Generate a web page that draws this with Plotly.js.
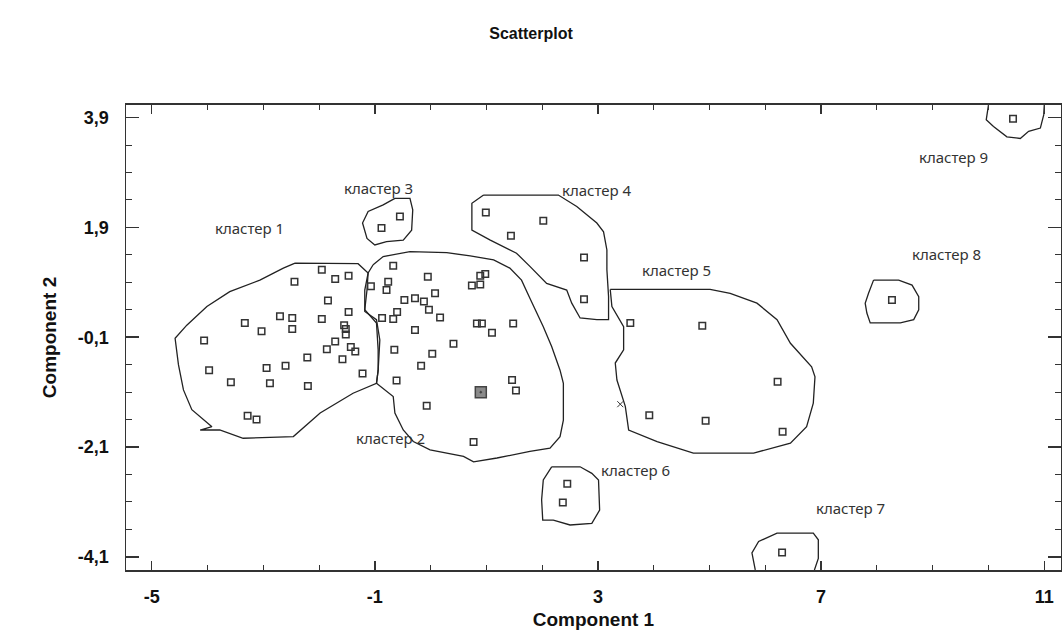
<!DOCTYPE html>
<html>
<head>
<meta charset="utf-8">
<script src="https://cdn.plot.ly/plotly-3.0.1.min.js"></script>
<style>html,body{margin:0;padding:0;background:#fff;}#chart{width:1062px;height:637px;}</style>
</head>
<body>
<div id="chart"></div>
<script>
// ---- tick labels ----
const xTickVals = [-5, -1, 3, 7, 11];
const xTickText = ["-5", "-1", "3", "7", "11"];
const yTickVals = [3.9, 1.9, -0.1, -2.1, -4.1];
const yTickText = ["3,9", "1,9", "-0,1", "-2,1", "-4,1"];

// ---- points per cluster ----
const c1x = [-1.95,-1.47,-1.71,-2.44,-1.84,-1.47,-2.70,-2.48,-1.95,-3.33,-2.48,-3.03,-1.55,-1.52,-1.52,-4.06,-1.71,-1.86,-1.43,-1.35,-2.21,-1.58,-3.97,-2.94,-2.60,-3.58,-2.88,-2.20,-1.22,-3.28,-3.12];
const c1y = [1.13,1.02,0.96,0.91,0.57,0.36,0.28,0.25,0.23,0.16,0.05,0.01,0.12,0.05,-0.05,-0.16,-0.18,-0.32,-0.28,-0.36,-0.47,-0.50,-0.70,-0.66,-0.62,-0.92,-0.94,-0.99,-0.76,-1.53,-1.60];
const c2x = [-0.67,-1.07,-0.76,-0.79,-0.05,0.89,0.98,0.74,0.89,-0.47,-0.28,-0.12,0.08,-0.03,0.17,-0.60,-0.67,-0.87,-0.28,0.83,0.92,1.10,1.48,0.41,-0.65,0.03,-0.17,-0.61,1.46,1.53,-0.07,0.77];
const c2y = [1.20,0.83,0.91,0.76,1.00,1.02,1.05,0.84,0.86,0.58,0.61,0.55,0.70,0.40,0.26,0.36,0.23,0.25,0.03,0.15,0.15,-0.02,0.15,-0.22,-0.33,-0.40,-0.62,-0.89,-0.88,-1.07,-1.35,-2.01];
const c3x = [-0.55,-0.88];
const c3y = [2.10,1.89];
const c4x = [0.99,2.02,1.44,2.75,2.75];
const c4y = [2.17,2.02,1.75,1.35,0.59];
const c5x = [3.58,4.87,6.22,3.92,4.93,6.31];
const c5y = [0.16,0.11,-0.91,-1.52,-1.62,-1.82];
const c6x = [2.45,2.37];
const c6y = [-2.77,-3.11];
const c7x = [6.30];
const c7y = [-4.02];
const c8x = [8.27];
const c8y = [0.58];
const c9x = [10.44];
const c9y = [3.88];
const centerX = [0.90];
const centerY = [-1.10];
const crossX = [3.40];
const crossY = [-1.32];

// ---- cluster boundaries ----
const b1x = [-2.43,-2.19,-1.30,-1.12,-1.14,-1.18,-0.97,-0.94,-0.94,-0.97,-1.39,-1.98,-2.46,-3.36,-3.78,-4.13,-3.92,-4.28,-4.43,-4.52,-4.58,-4.37,-4.01,-3.60,-3.06,-2.64,-2.43];
const b1y = [1.25,1.25,1.24,1.07,0.76,0.40,0.16,-0.33,-0.70,-0.94,-1.12,-1.48,-1.91,-1.94,-1.79,-1.79,-1.73,-1.42,-1.06,-0.60,-0.12,0.12,0.46,0.73,0.94,1.16,1.25];
const b2x = [-1.03,-0.85,-0.37,0.29,0.71,1.13,1.42,1.63,1.78,2.02,2.17,2.32,2.38,2.38,2.32,2.14,1.78,1.19,0.77,0.59,-0.01,-0.31,-0.49,-0.64,-0.67,-0.97,-0.94,-0.91,-0.97,-1.18,-1.18,-1.12,-1.03];
const b2y = [1.22,1.37,1.46,1.44,1.38,1.31,1.16,0.94,0.61,0.09,-0.27,-0.70,-0.94,-1.61,-1.91,-2.12,-2.18,-2.30,-2.37,-2.27,-2.15,-2.00,-1.79,-1.48,-1.18,-0.94,-0.70,-0.15,0.22,0.37,0.76,1.07,1.22];
const b3x = [-0.64,-0.37,-0.32,-0.34,-0.49,-0.79,-1.00,-1.14,-1.22,-1.12,-0.85,-0.64];
const b3y = [2.43,2.43,2.22,1.85,1.67,1.64,1.58,1.70,1.98,2.19,2.31,2.43];
const b4x = [0.95,2.29,2.62,2.98,3.10,3.16,3.16,3.19,3.19,2.98,2.68,2.53,2.44,2.08,1.78,1.54,1.07,0.74,0.74,0.95];
const b4y = [2.49,2.49,2.28,1.98,1.82,1.49,1.13,0.64,0.22,0.22,0.25,0.52,0.76,0.88,1.19,1.43,1.67,1.85,2.34,2.49];
const b5x = [3.22,5.01,5.37,5.85,6.21,6.45,6.83,6.89,6.86,6.74,6.45,5.79,4.71,4.06,3.55,3.49,3.34,3.31,3.46,3.46,3.25,3.22];
const b5y = [0.77,0.77,0.70,0.52,0.22,-0.21,-0.64,-0.82,-1.30,-1.73,-2.03,-2.21,-2.21,-2.00,-1.79,-1.36,-0.88,-0.57,-0.33,0.09,0.46,0.77];
const b6x = [2.17,2.68,2.89,3.01,3.03,2.89,2.50,2.20,2.01,1.99,2.02,2.17];
const b6y = [-2.46,-2.46,-2.58,-2.70,-3.25,-3.49,-3.52,-3.43,-3.43,-3.06,-2.70,-2.46];
const b7x = [5.82,5.76,5.88,6.21,6.86,6.95,6.95,6.88];
const b7y = [-4.34,-4.03,-3.82,-3.67,-3.67,-3.79,-4.13,-4.34];
const b8x = [7.94,8.39,8.63,8.75,8.75,8.66,8.42,7.88,7.82,7.79,7.85,7.94];
const b8y = [0.94,0.94,0.85,0.64,0.40,0.22,0.16,0.16,0.34,0.52,0.70,0.94];
const b9x = [10.00,9.96,10.09,10.33,10.57,10.72,10.93,10.99,11.00];
const b9y = [4.13,3.86,3.74,3.55,3.52,3.65,3.71,3.95,4.13];

// ---- cluster labels ----
const labelText = ["кластер 1","кластер 2","кластер 3","кластер 4","кластер 5","кластер 6","кластер 7","кластер 8","кластер 9"];
const labelX = [-3.24,-0.71,-0.94,2.98,4.40,3.67,7.52,9.24,9.37];
const labelY = [1.89,-1.93,2.62,2.58,1.13,-2.52,-3.21,1.42,3.18];

const pointsX = [c1x,c2x,c3x,c4x,c5x,c6x,c7x,c8x,c9x];
const pointsY = [c1y,c2y,c3y,c4y,c5y,c6y,c7y,c8y,c9y];
const boundsX = [b1x,b2x,b3x,b4x,b5x,b6x,b7x,b8x,b9x];
const boundsY = [b1y,b2y,b3y,b4y,b5y,b6y,b7y,b8y,b9y];

const traces = [];
boundsX.forEach((bx, i) => {
  traces.push({x: bx, y: boundsY[i], mode: 'lines', type: 'scatter',
    line: {color: '#222', width: 1.3}, hoverinfo: 'skip', showlegend: false});
});
pointsX.forEach((px, i) => {
  traces.push({x: px, y: pointsY[i], mode: 'markers', type: 'scatter',
    marker: {symbol: 'square-open', size: 6.5, color: '#333', line: {width: 1.5, color: '#333'}},
    showlegend: false});
});
traces.push({x: centerX, y: centerY, mode: 'markers', type: 'scatter',
  marker: {symbol: 'square-dot', size: 11, color: '#8a8a8a', line: {width: 1.5, color: '#444'}}, showlegend: false});
traces.push({x: crossX, y: crossY, mode: 'markers', type: 'scatter',
  marker: {symbol: 'x-thin-open', size: 6, color: '#333', line: {width: 1, color: '#333'}}, showlegend: false});

const annotations = labelText.map((t, i) => ({
  x: labelX[i], y: labelY[i], xref: 'x', yref: 'y', text: t, showarrow: false,
  font: {family: 'Noto Sans, sans-serif', size: 15, color: '#333'}
}));

const axisFont = {family: 'Liberation Sans, Arial, sans-serif', size: 18, color: '#111', weight: 'bold'};

const layout = {
  width: 1062, height: 637,
  margin: {l: 126, r: 1, t: 105, b: 67},
  paper_bgcolor: '#fff', plot_bgcolor: '#fff',
  showlegend: false,
  title: {text: '<b>Scatterplot</b>', x: 0.5, xref: 'container', xanchor: 'center',
    y: 1 - 33/637, yref: 'container', yanchor: 'middle',
    font: {family: 'Liberation Sans, Arial, sans-serif', size: 16, color: '#111'}},
  xaxis: {
    range: [-5.46, 11.30], tickmode: 'array', tickvals: xTickVals, ticktext: xTickText,
    ticks: 'inside', ticklen: 9, tickwidth: 1.5, tickcolor: '#333',
    showline: true, linecolor: '#333', linewidth: 2, mirror: 'allticks',
    showgrid: false, zeroline: false,
    tickfont: axisFont, ticklabelstandoff: 9,
    minor: {dtick: 1, tick0: -5, ticks: 'inside', ticklen: 5, tickcolor: '#333', tickwidth: 1, showgrid: false},
    title: {text: '<b>Component 1</b>', font: {family: 'Liberation Sans, Arial, sans-serif', size: 19, color: '#111'}, standoff: 7}
  },
  yaxis: {
    range: [-4.34, 4.13], tickmode: 'array', tickvals: yTickVals, ticktext: yTickText,
    ticks: 'inside', ticklen: 13, tickwidth: 1.5, tickcolor: '#333',
    showline: true, linecolor: '#333', linewidth: 1.5, mirror: 'allticks',
    showgrid: false, zeroline: false,
    tickfont: axisFont, ticklabelstandoff: 12,
    minor: {dtick: 0.5, tick0: -4.1, ticks: 'inside', ticklen: 6, tickcolor: '#333', tickwidth: 1, showgrid: false},
    title: {text: '<b>Component 2</b>', font: {family: 'Liberation Sans, Arial, sans-serif', size: 19, color: '#111'}, standoff: 16}
  },
  annotations: annotations
};

Plotly.newPlot('chart', traces, layout, {displayModeBar: false, staticPlot: true});
</script>
</body>
</html>
